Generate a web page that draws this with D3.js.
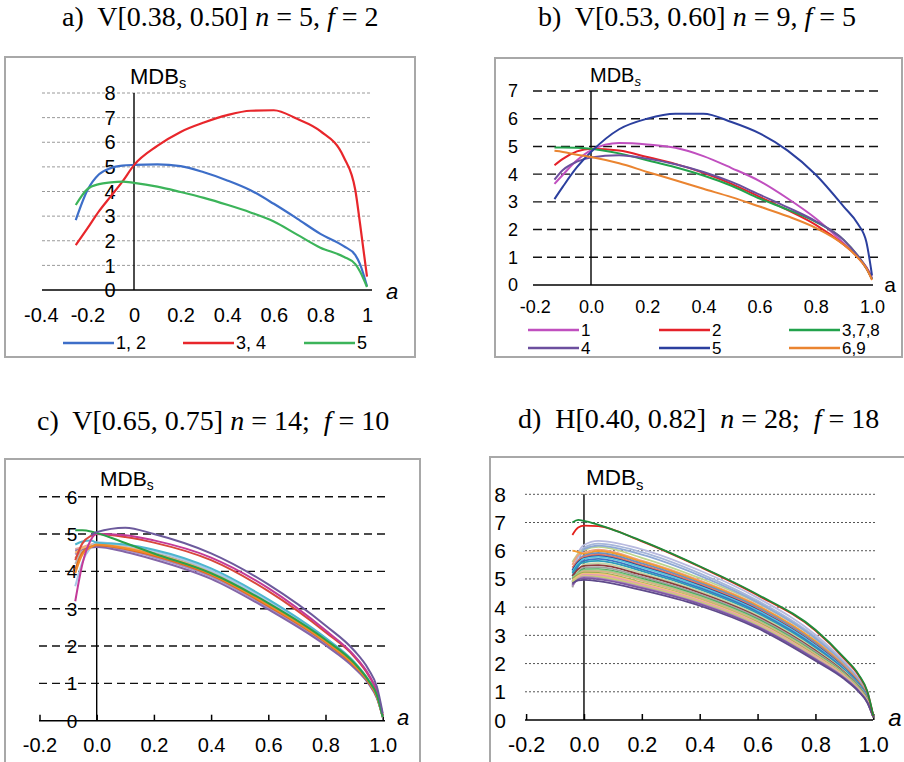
<!DOCTYPE html>
<html>
<head>
<meta charset="utf-8">
<title>MDBs curves, four panels</title>
<script src="https://d3js.org/d3.v7.min.js"></script>
<style>
  body { margin: 0; background: #fff; }
  svg text { font-family: "Liberation Sans", Arial, sans-serif; fill: #000; }
  svg text.title { font-family: "Liberation Serif", "Times New Roman", serif; white-space: pre; }
</style>
</head>
<body>
<div id="chart"></div>
<script>
// ---------- data: panel a ----------
var aX = [-0.25, -0.2, -0.15, -0.1, -0.05, 0, 0.1, 0.2, 0.3, 0.4, 0.5, 0.6, 0.7, 0.8, 0.9, 0.95, 0.97, 1.0];
var aNames = ["1, 2", "3, 4", "5"];
var aS12 = [2.84, 4.05, 4.7, 4.95, 5.05, 5.08, 5.1, 5.03, 4.78, 4.45, 4.05, 3.5, 2.9, 2.28, 1.78, 1.42, 1.05, 0.15];
var aS34 = [1.82, 2.5, 3.2, 3.8, 4.4, 5.07, 5.85, 6.42, 6.8, 7.1, 7.28, 7.3, 6.95, 6.45, 5.4, 4.05, 2.7, 0.54];
var aS5 = [3.45, 4.1, 4.3, 4.37, 4.4, 4.35, 4.2, 3.98, 3.74, 3.46, 3.15, 2.78, 2.25, 1.72, 1.35, 1.05, 0.75, 0.12];
var aColors = ["#3d6ec8", "#e8262b", "#3cb45a"];
var aXTicks = [-0.4, -0.2, 0, 0.2, 0.4, 0.6, 0.8, 1];
var aYTicks = [0, 1, 2, 3, 4, 5, 6, 7, 8];
var aTitle = [["a)  V[0.38, 0.50] ", false], ["n", true], [" = 5, ", false], ["f", true], [" = 2", false]];

// ---------- data: panel b ----------
var bX = [-0.13, -0.1, -0.05, 0, 0.1, 0.2, 0.3, 0.4, 0.5, 0.6, 0.7, 0.8, 0.9, 0.95, 0.98, 1.0];
var bNames = ["1", "2", "3,7,8", "4", "5", "6,9"];
var bS1 = [3.65, 3.98, 4.5, 4.86, 5.12, 5.07, 4.95, 4.65, 4.22, 3.75, 3.12, 2.4, 1.5, 1.0, 0.65, 0.3];
var bS2 = [4.32, 4.55, 4.82, 4.92, 4.85, 4.62, 4.37, 4.05, 3.65, 3.18, 2.7, 2.17, 1.45, 1.0, 0.6, 0.22];
var bS378 = [4.96, 4.96, 4.95, 4.92, 4.75, 4.5, 4.25, 3.95, 3.58, 3.12, 2.72, 2.28, 1.62, 1.05, 0.6, 0.22];
var bS4 = [3.8, 4.15, 4.45, 4.6, 4.68, 4.56, 4.36, 4.08, 3.72, 3.26, 2.8, 2.3, 1.62, 1.05, 0.62, 0.22];
var bS5 = [3.1, 3.55, 4.25, 4.8, 5.62, 6.0, 6.18, 6.18, 5.88, 5.47, 4.85, 3.98, 2.82, 2.2, 1.55, 0.35];
var bS69 = [4.84, 4.8, 4.7, 4.62, 4.39, 4.08, 3.78, 3.47, 3.17, 2.83, 2.48, 2.06, 1.45, 0.98, 0.6, 0.18];
var bColors = ["#c04fbf", "#e5222a", "#22a24c", "#6c4f9e", "#2b3f9e", "#ea8430"];
var bXTicks = [-0.2, 0, 0.2, 0.4, 0.6, 0.8, 1.0];
var bYTicks = [0, 1, 2, 3, 4, 5, 6, 7];
var bTitle = [["b)  V[0.53, 0.60] ", false], ["n", true], [" = 9, ", false], ["f", true], [" = 5", false]];

// ---------- data: panel c (14 curves) ----------
var cX = [-0.075, -0.05, -0.02, 0, 0.1, 0.2, 0.4, 0.6, 0.8, 0.9, 0.95, 0.98, 1.0];
var cS01 = [4.35, 4.58, 4.68, 4.7, 4.6, 4.43, 3.91, 3.08, 2.1, 1.49, 1.04, 0.64, 0.1];
var cS02 = [4.2, 4.55, 4.7, 4.75, 4.66, 4.5, 4.0, 3.17, 2.16, 1.53, 1.07, 0.66, 0.1];
var cS03 = [4.6, 4.65, 4.72, 4.73, 4.63, 4.46, 3.94, 3.12, 2.13, 1.51, 1.05, 0.65, 0.1];
var cS04 = [4.45, 4.6, 4.68, 4.69, 4.57, 4.38, 3.86, 3.03, 2.06, 1.45, 1.02, 0.62, 0.1];
var cS05 = [4.55, 4.6, 4.64, 4.65, 4.52, 4.32, 3.8, 2.98, 2.02, 1.42, 1.0, 0.6, 0.12];
var cS06 = [4.5, 4.62, 4.7, 4.74, 4.64, 4.47, 3.96, 3.13, 2.14, 1.52, 1.06, 0.66, 0.1];
var cS07 = [3.6, 4.25, 4.65, 4.78, 4.7, 4.55, 4.03, 3.2, 2.2, 1.56, 1.08, 0.68, 0.1];
var cS08 = [4.05, 4.5, 4.66, 4.7, 4.6, 4.42, 3.9, 3.07, 2.1, 1.48, 1.04, 0.64, 0.1];
var cS09 = [3.95, 4.45, 4.65, 4.72, 4.62, 4.45, 3.93, 3.1, 2.12, 1.5, 1.05, 0.65, 0.1];
var cS10 = [4.72, 4.8, 4.83, 4.77, 4.72, 4.58, 4.08, 3.25, 2.22, 1.58, 1.1, 0.7, 0.1];
var cS11 = [4.3, 4.75, 4.95, 5.0, 4.92, 4.77, 4.3, 3.47, 2.37, 1.72, 1.22, 0.76, 0.14];
var cS12 = [3.2, 4.2, 4.85, 5.0, 4.97, 4.83, 4.37, 3.55, 2.42, 1.75, 1.25, 0.78, 0.15];
var cS13 = [5.1, 5.1, 5.07, 5.03, 4.76, 4.48, 3.95, 3.15, 2.17, 1.55, 1.08, 0.68, 0.1];
var cS14 = [null, null, 4.97, 5.05, 5.17, 5.0, 4.48, 3.65, 2.55, 1.88, 1.38, 0.9, 0.2];
var cColors = ["#cda57f", "#b4b4b4", "#e9a39e", "#a690ca", "#8466a8", "#f7b46c", "#a8c8e8",
               "#e0691e", "#ef8b2c", "#4db6cf", "#d9473c", "#c23a98", "#2aa048", "#6c5a9c"];
var cXTicks = [-0.2, 0, 0.2, 0.4, 0.6, 0.8, 1.0];
var cYTicks = [0, 1, 2, 3, 4, 5, 6];
var cTitle = [["c)  V[0.65, 0.75] ", false], ["n", true], [" = 14;  ", false], ["f", true], [" = 10", false]];

// ---------- data: panel d (28 curves) ----------
var dX = [-0.04, -0.02, 0, 0.05, 0.2, 0.4, 0.6, 0.8, 0.9, 0.95, 0.98, 1.0];
var dS01 = [4.75, 5.9, 6.2, 6.35, 6.05, 5.3, 4.33, 3.02, 2.06, 1.45, 0.9, 0.15];
var dS02 = [5.3, 5.8, 6.11, 6.25, 5.95, 5.2, 4.23, 2.94, 2.01, 1.42, 0.88, 0.15];
var dS03 = [5.6, 5.9, 6.02, 6.14, 5.75, 5.03, 4.14, 2.87, 1.96, 1.38, 0.86, 0.14];
var dS04 = [4.9, 5.6, 6.05, 6.18, 5.86, 5.12, 4.17, 2.89, 1.98, 1.4, 0.86, 0.14];
var dS05 = [5.5, 5.85, 5.93, 6.04, 5.65, 4.95, 4.07, 2.8, 1.92, 1.35, 0.83, 0.14];
var dS06 = [6.0, 5.95, 5.89, 5.99, 5.61, 4.91, 4.04, 2.78, 1.9, 1.34, 0.83, 0.14];
var dS07 = [5.1, 5.6, 5.83, 5.92, 5.55, 4.86, 3.99, 2.73, 1.87, 1.32, 0.81, 0.13];
var dS08 = [5.4, 5.65, 5.78, 5.86, 5.49, 4.81, 3.94, 2.69, 1.85, 1.3, 0.8, 0.13];
var dS09 = [5.3, 5.6, 5.73, 5.81, 5.44, 4.76, 3.9, 2.66, 1.82, 1.28, 0.79, 0.13];
var dS10 = [5.25, 5.55, 5.71, 5.78, 5.41, 4.74, 3.88, 2.64, 1.81, 1.27, 0.78, 0.13];
var dS11 = [5.0, 5.45, 5.65, 5.71, 5.34, 4.68, 3.83, 2.6, 1.78, 1.25, 0.77, 0.13];
var dS12 = [5.2, 5.5, 5.59, 5.64, 5.28, 4.63, 3.78, 2.55, 1.75, 1.23, 0.75, 0.12];
var dS13 = [4.8, 5.3, 5.52, 5.56, 5.21, 4.57, 3.72, 2.5, 1.72, 1.2, 0.74, 0.12];
var dS14 = [5.1, 5.35, 5.46, 5.49, 5.14, 4.51, 3.67, 2.46, 1.69, 1.18, 0.72, 0.12];
var dS15 = [4.7, 5.2, 5.4, 5.42, 5.07, 4.45, 3.62, 2.42, 1.66, 1.16, 0.71, 0.12];
var dS16 = [4.9, 5.2, 5.34, 5.35, 5.01, 4.4, 3.57, 2.37, 1.63, 1.14, 0.69, 0.11];
var dS17 = [5.05, 5.2, 5.31, 5.32, 4.98, 4.37, 3.54, 2.35, 1.62, 1.13, 0.68, 0.11];
var dS18 = [4.85, 5.15, 5.28, 5.28, 4.94, 4.34, 3.51, 2.33, 1.6, 1.11, 0.68, 0.11];
var dS19 = [5.0, 5.15, 5.22, 5.21, 4.87, 4.28, 3.46, 2.28, 1.57, 1.09, 0.66, 0.11];
var dS20 = [4.95, 5.1, 5.19, 5.18, 4.84, 4.26, 3.44, 2.26, 1.56, 1.08, 0.65, 0.11];
var dS21 = [4.9, 5.05, 5.15, 5.13, 4.8, 4.22, 3.41, 2.24, 1.54, 1.07, 0.65, 0.11];
var dS22 = [4.95, 5.05, 5.12, 5.09, 4.76, 4.19, 3.38, 2.21, 1.52, 1.05, 0.64, 0.1];
var dS23 = [4.9, 5.02, 5.09, 5.06, 4.74, 4.17, 3.36, 2.19, 1.51, 1.05, 0.63, 0.1];
var dS24 = [4.75, 5.0, 5.07, 5.03, 4.71, 4.14, 3.33, 2.17, 1.5, 1.04, 0.62, 0.1];
var dS25 = [4.8, 4.98, 5.03, 4.99, 4.67, 4.11, 3.3, 2.15, 1.48, 1.02, 0.62, 0.1];
var dS26 = [4.85, 4.95, 4.97, 4.92, 4.6, 4.05, 3.25, 2.1, 1.45, 1.0, 0.6, 0.1];
var dS27 = [6.56, 6.82, 6.89, 6.87, 6.33, 5.43, 4.42, 3.17, 2.17, 1.57, 0.98, 0.14];
var dS28 = [7.0, 7.09, 7.06, 6.92, 6.35, 5.45, 4.45, 3.2, 2.2, 1.6, 1.0, 0.15];
var dColors = ["#b8badf", "#a7b6da", "#bbd58f", "#8ea8d5", "#efa07e", "#f39b2e", "#6c8fc0",
               "#e4745b", "#22358b", "#5bc5de", "#3b75c2", "#2c9cb8", "#c5d6a6", "#8c3b3b",
               "#a0a0a0", "#3fa34d", "#8fcc8f", "#d5b384", "#9baf50", "#f6c27c", "#e49ab4",
               "#dfbb90", "#c4d56b", "#b18eba", "#7d56a5", "#5f4b8b", "#e3201b", "#1e8c3a"];
var dXTicks = [-0.2, 0, 0.2, 0.4, 0.6, 0.8, 1.0];
var dYTicks = [0, 1, 2, 3, 4, 5, 6, 7, 8];
var dTitle = [["d)  H[0.40, 0.82]  ", false], ["n", true], [" = 28;  ", false], ["f", true], [" = 18", false]];

// ---------- drawing ----------
var svg = d3.select("#chart").append("svg")
  .attr("width", 904)
  .attr("height", 762);

var fmtA = function (d) { return String(+d.toFixed(1)); };
var fmt1 = function (d) { return d.toFixed(1); };

function drawTitle(parts, x, y) {
  var t = svg.append("text").attr("class", "title")
    .attr("x", x).attr("y", y).attr("font-size", 28);
  t.selectAll("tspan").data(parts).join("tspan")
    .attr("font-style", function (d) { return d[1] ? "italic" : "normal"; })
    .text(function (d) { return d[0]; });
}

function drawPanel(p, xs, series, colors) {
  var g = svg.append("g");
  g.append("rect")
    .attr("x", p.frame[0]).attr("y", p.frame[1])
    .attr("width", p.frame[2]).attr("height", p.frame[3])
    .attr("fill", "#fff").attr("stroke", "#a8a8a8").attr("stroke-width", 2);

  var x = d3.scaleLinear().domain(p.xDom).range(p.xRange);
  var y = d3.scaleLinear().domain(p.yDom).range(p.yRange);

  // horizontal grid
  g.selectAll("line.grid").data(p.yTicks.filter(function (d) { return d > 0; })).join("line")
    .attr("class", "grid")
    .attr("x1", p.gridX[0]).attr("x2", p.gridX[1])
    .attr("y1", function (d) { return y(d); }).attr("y2", function (d) { return y(d); })
    .attr("stroke", p.gridColor).attr("stroke-width", p.gridWidth)
    .attr("stroke-dasharray", p.gridDash);

  // x axis with labels
  var axis = d3.axisBottom(x).tickValues(p.xTicks).tickFormat(p.xFmt)
    .tickSizeInner(p.tickUp ? -6 : 0).tickSizeOuter(0).tickPadding(p.xPad);
  var axg = g.append("g").attr("transform", "translate(0," + y(0) + ")").call(axis);
  axg.attr("font-size", p.xFont).attr("font-family", null);
  axg.select(".domain").remove();
  axg.selectAll(".tick line").attr("stroke", "#000").attr("stroke-width", 1.5);
  axg.selectAll(".tick text").attr("fill", "#000");

  g.append("line")
    .attr("x1", p.gridX[0]).attr("x2", p.axisEnd)
    .attr("y1", y(0)).attr("y2", y(0))
    .attr("stroke", "#000").attr("stroke-width", 1.6);

  // vertical axis at a = 0
  g.append("line")
    .attr("x1", x(0)).attr("x2", x(0))
    .attr("y1", y(0)).attr("y2", y(p.yDom[1]))
    .attr("stroke", "#000").attr("stroke-width", 1.4);

  // y labels
  g.selectAll("text.ylab").data(p.yTicks).join("text")
    .attr("class", "ylab")
    .attr("x", p.yLabX).attr("y", function (d) { return y(d); })
    .attr("dy", "0.36em").attr("text-anchor", "middle")
    .attr("font-size", p.yFont)
    .text(function (d) { return d; });

  // MDBs label
  var m = g.append("text").attr("x", p.mdb[0]).attr("y", p.mdb[1]).attr("font-size", p.mdb[2]);
  m.append("tspan").text("MDB");
  m.append("tspan").attr("font-size", p.mdb[2] * 0.66).attr("dy", p.mdb[2] * 0.2)
    .attr("font-style", p.mdb[3] ? "italic" : "normal").text("s");

  // "a" axis label
  g.append("text").attr("x", p.aLab[0]).attr("y", p.aLab[1])
    .attr("font-size", p.aLab[2]).attr("font-style", p.aLab[3] ? "italic" : "normal")
    .attr("text-anchor", "middle").text("a");

  // curves
  var line = d3.line()
    .defined(function (d) { return d[1] != null; })
    .x(function (d) { return x(d[0]); })
    .y(function (d) { return y(d[1]); })
    .curve(d3.curveMonotoneX);
  g.selectAll("path.curve").data(series).join("path")
    .attr("class", "curve")
    .attr("d", function (s) { return line(xs.map(function (v, i) { return [v, s[i]]; })); })
    .attr("fill", "none")
    .attr("stroke", function (s, i) { return colors[i]; })
    .attr("stroke-width", p.lineWidth)
    .attr("stroke-linejoin", "round");

  return g;
}

function drawLegend(g, names, colors, pos, fs) {
  var items = g.selectAll("g.leg").data(names).join("g").attr("class", "leg")
    .attr("transform", function (d, i) { return "translate(" + pos[i][0] + "," + pos[i][1] + ")"; });
  items.append("line").attr("x1", 0).attr("x2", 51).attr("y1", 0).attr("y2", 0)
    .attr("stroke", function (d, i) { return colors[i]; }).attr("stroke-width", 2.5);
  items.append("text").attr("x", 53).attr("y", 0).attr("dy", "0.36em")
    .attr("font-size", fs).text(function (d) { return d; });
}

// panel a
var ga = drawPanel({
  frame: [5, 57, 410, 300],
  xDom: [-0.4, 1], xRange: [40.8, 367],
  yDom: [0, 8], yRange: [290, 93],
  gridX: [42, 372], axisEnd: 372,
  gridColor: "#9a9a9a", gridWidth: 1, gridDash: "3,2",
  xTicks: aXTicks, xFmt: fmtA, xFont: 20, xPad: 18, tickUp: false,
  yTicks: aYTicks, yLabX: 110, yFont: 20,
  mdb: [130, 84, 22, false], aLab: [392, 299, 22, true], lineWidth: 2.2
}, aX, [aS12, aS34, aS5], aColors);
drawLegend(ga, aNames, aColors, [[63, 343], [183, 343], [304, 343]], 18);
drawTitle(aTitle, 62, 26);

// panel b
var gb = drawPanel({
  frame: [495, 58, 407, 299],
  xDom: [-0.2, 1], xRange: [534.8, 872],
  yDom: [0, 7], yRange: [285, 91],
  gridX: [533, 878], axisEnd: 873,
  gridColor: "#111", gridWidth: 1.4, gridDash: "9,5",
  xTicks: bXTicks, xFmt: fmt1, xFont: 18, xPad: 15, tickUp: false,
  yTicks: bYTicks, yLabX: 513, yFont: 18,
  mdb: [590, 82, 20, true], aLab: [890, 292, 21, false], lineWidth: 2
}, bX, [bS1, bS2, bS378, bS4, bS5, bS69], bColors);
drawLegend(gb, bNames, bColors,
  [[528, 330], [659, 330], [789, 330], [528, 348], [659, 348], [789, 348]], 17);
drawTitle(bTitle, 538, 26);

// panel c
drawPanel({
  frame: [5, 459, 415, 320],
  xDom: [-0.2, 1], xRange: [39.5, 382.7],
  yDom: [0, 6], yRange: [720.7, 496.7],
  gridX: [39, 389], axisEnd: 385,
  gridColor: "#111", gridWidth: 1.4, gridDash: "8,5",
  xTicks: cXTicks, xFmt: fmt1, xFont: 20, xPad: 17, tickUp: true,
  yTicks: cYTicks, yLabX: 72, yFont: 19,
  mdb: [100, 486, 21, false], aLab: [403, 725, 22, true], lineWidth: 2
}, cX, [cS01, cS02, cS03, cS04, cS05, cS06, cS07, cS08, cS09, cS10, cS11, cS12, cS13, cS14], cColors);
drawTitle(cTitle, 37, 430);

// panel d
drawPanel({
  frame: [490, 457, 420, 320],
  xDom: [-0.2, 1], xRange: [526.1, 873.3],
  yDom: [0, 8], yRange: [720, 494.3],
  gridX: [525, 877], axisEnd: 873,
  gridColor: "#555", gridWidth: 1, gridDash: "2,2",
  xTicks: dXTicks, xFmt: fmt1, xFont: 21.5, xPad: 17, tickUp: true,
  yTicks: dYTicks, yLabX: 500, yFont: 21,
  mdb: [586, 485, 22.5, false], aLab: [895, 726, 24, true], lineWidth: 1.8
}, dX, [dS01, dS02, dS03, dS04, dS05, dS06, dS07, dS08, dS09, dS10, dS11, dS12, dS13, dS14,
        dS15, dS16, dS17, dS18, dS19, dS20, dS21, dS22, dS23, dS24, dS25, dS26, dS27, dS28], dColors);
drawTitle(dTitle, 518, 428);
</script>
</body>
</html>
